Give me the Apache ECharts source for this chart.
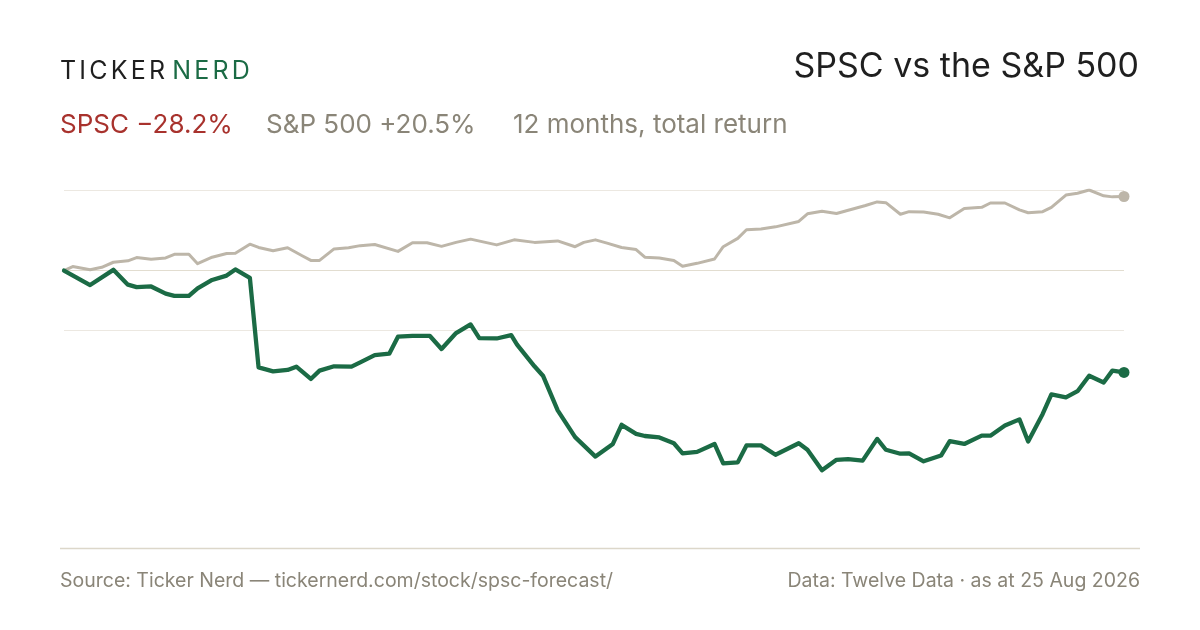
<!DOCTYPE html>
<html>
<head>
<meta charset="utf-8">
<script src="https://cdn.jsdelivr.net/npm/echarts@6/dist/echarts.min.js"></script>
<style>
  html, body { margin: 0; padding: 0; background: #ffffff; }
  #chart { width: 1200px; height: 630px; }
</style>
</head>
<body>
<div id="chart"></div>
<script>
// days since start of the 12 month window, % total return
const spxDays = [0, 3, 9, 13, 17, 22, 25, 30, 35, 38, 43, 46, 51, 56, 59, 64, 67, 72, 77, 82,
    85, 88, 93, 98, 102, 107, 115, 120, 125, 130, 135, 140, 149, 155, 162, 170, 176, 179, 183, 187,
    192, 197, 200, 205, 210, 213, 218, 224, 227, 232, 235, 240, 245, 253, 256, 261, 266, 276, 280, 283,
    288, 291, 296, 301, 305, 310, 316, 319, 324, 329, 332, 337, 340, 345, 349, 353, 358, 361, 365]
const spxPct = [0, 1.1, 0.2, 0.9, 2.3, 2.7, 3.6, 3.1, 3.5, 4.5, 4.5, 1.9, 3.7, 4.7, 4.8, 7.3, 6.4, 5.5, 6.3, 4.1,
    2.8, 2.8, 6.0, 6.3, 6.9, 7.2, 5.3, 7.7, 7.7, 6.7, 7.8, 8.7, 7.1, 8.5, 7.8, 8.2, 6.6, 7.8, 8.5, 7.6,
    6.4, 5.8, 3.7, 3.5, 2.8, 1.2, 2.0, 3.2, 6.6, 8.9, 11.3, 11.5, 12.1, 13.6, 15.7, 16.4, 15.8, 18.0, 19.0, 18.8,
    15.6, 16.3, 16.2, 15.6, 14.6, 17.2, 17.5, 18.7, 18.7, 16.8, 16.0, 16.3, 17.5, 20.9, 21.4, 22.3, 20.7, 20.4, 20.5]

const spscDays = [0, 9, 17, 22, 25, 30, 35, 38, 43, 46, 51, 56, 59, 64, 67, 72, 77, 80, 85, 88,
    93, 99, 102, 107, 112, 115, 120, 126, 130, 135, 140, 143, 149, 154, 156, 162, 165, 170, 176, 183,
    189, 192, 197, 200, 205, 210, 213, 218, 224, 227, 232, 235, 240, 245, 253, 256, 261, 266, 270, 275,
    280, 283, 288, 291, 296, 302, 305, 310, 316, 319, 324, 329, 332, 337, 340, 345, 349, 353, 358, 361, 365]
const spscPct = [0, -4.0, 0.2, -3.9, -4.6, -4.4, -6.4, -7.0, -7.0, -4.9, -2.6, -1.4, 0.3, -2.0, -26.8, -27.9, -27.5, -26.6, -30.0, -27.7,
    -26.5, -26.6, -25.4, -23.4, -23.0, -18.3, -18.1, -18.1, -21.7, -17.3, -14.9, -18.7, -18.8, -17.9, -20.5, -26.5, -29.2, -38.7, -46.1, -51.5,
    -48.0, -42.7, -45.2, -45.8, -46.2, -47.8, -50.6, -50.2, -48.0, -53.4, -53.1, -48.4, -48.4, -51.0, -47.8, -49.6, -55.3, -52.4, -52.2, -52.6,
    -46.6, -49.6, -50.7, -50.6, -52.8, -51.2, -47.2, -48.0, -45.7, -45.7, -42.9, -41.2, -47.3, -39.7, -34.3, -35.1, -33.4, -29.1, -31.0, -27.7, -28.2]

const gridLevels = [22.3, 0, -16.5]

const FONT = 'Inter, "Noto Sans", sans-serif'
const GREEN = '#1b6b45'
const SAND = '#bdb6a9'
const MUTED = '#8a8578'

const spxLine = spxDays.map((d, i) => [d, spxPct[i]])
const spscLine = spscDays.map((d, i) => [d, spscPct[i]])

// letter-spaced wordmark, one text element per letter
const measureCtx = document.createElement('canvas').getContext('2d')
function spacedText(str, x, y, size, color, spacing) {
    measureCtx.font = `400 ${size}px ${FONT}`
    let out = []
    let cx = x
    for (const ch of str) {
        out.push({
            type: 'text', x: cx, y: y,
            style: { text: ch, fontFamily: FONT, fontSize: size, fill: color, textBaseline: 'top' }
        })
        cx += measureCtx.measureText(ch).width + spacing
    }
    return { items: out, end: cx }
}
const ticker = spacedText('TICKER', 60, 59, 25, '#1f1f1f', 3.2)
const nerd = spacedText('NERD', ticker.end + 4, 59, 25, GREEN, 3.2)

function label(text, x, y, size, color, align) {
    return {
        type: 'text', x: x, y: y,
        style: { text: text, fontFamily: FONT, fontSize: size, fill: color, textAlign: align || 'left', textBaseline: 'top' }
    }
}

let chart = echarts.init(document.getElementById('chart'), null, { renderer: 'canvas' })
chart.setOption({
    animation: false,
    grid: { left: 64, right: 76, top: 190, bottom: 82 },
    xAxis: { type: 'value', min: 0, max: 365, show: false },
    yAxis: { type: 'value', min: -76.8, max: 22.3, show: false, splitLine: { show: false } },
    graphic: [
        ...ticker.items,
        ...nerd.items,
        label('SPSC vs the S&P 500', 1139, 50, 34, '#1f1f1f', 'right'),
        label('SPSC \u221228.2%', 60, 112, 26, '#a8322d'),
        label('S&P 500 +20.5%', 266, 112, 26, MUTED),
        label('12 months, total return', 513, 112, 26, MUTED),
        {
            type: 'line', shape: { x1: 60, y1: 548.5, x2: 1140, y2: 548.5 },
            style: { stroke: '#dcd7ca', lineWidth: 1.5 }
        },
        label('Source: Ticker Nerd \u2014 tickernerd.com/stock/spsc-forecast/', 60, 571, 19.5, MUTED),
        label('Data: Twelve Data \u00b7 as at 25 Aug 2026', 1140, 571, 19.5, MUTED, 'right')
    ],
    series: [
        {
            type: 'line',
            name: 'S&P 500',
            data: spxLine,
            showSymbol: false,
            z: 3,
            lineStyle: { color: SAND, width: 3, join: 'round', cap: 'round' },
            markLine: {
                silent: true,
                symbol: 'none',
                label: { show: false },
                z: 1,
                data: gridLevels.map(v => ({
                    yAxis: v,
                    lineStyle: { color: v === 0 ? '#e2ddd0' : '#ece8e1', width: 1.2, type: 'solid' }
                }))
            }
        },
        {
            type: 'line',
            name: 'SPSC',
            data: spscLine,
            showSymbol: false,
            z: 4,
            lineStyle: { color: GREEN, width: 4.3, join: 'round', cap: 'round' }
        },
        {
            type: 'scatter',
            data: [spxLine[spxLine.length - 1]],
            symbolSize: 11,
            itemStyle: { color: SAND, opacity: 1 },
            z: 5
        },
        {
            type: 'scatter',
            data: [spscLine[spscLine.length - 1]],
            symbolSize: 11,
            itemStyle: { color: GREEN, opacity: 1 },
            z: 5
        }
    ]
});
window.onresize = function () {
    chart.resize();
};
</script>
</body>
</html>
